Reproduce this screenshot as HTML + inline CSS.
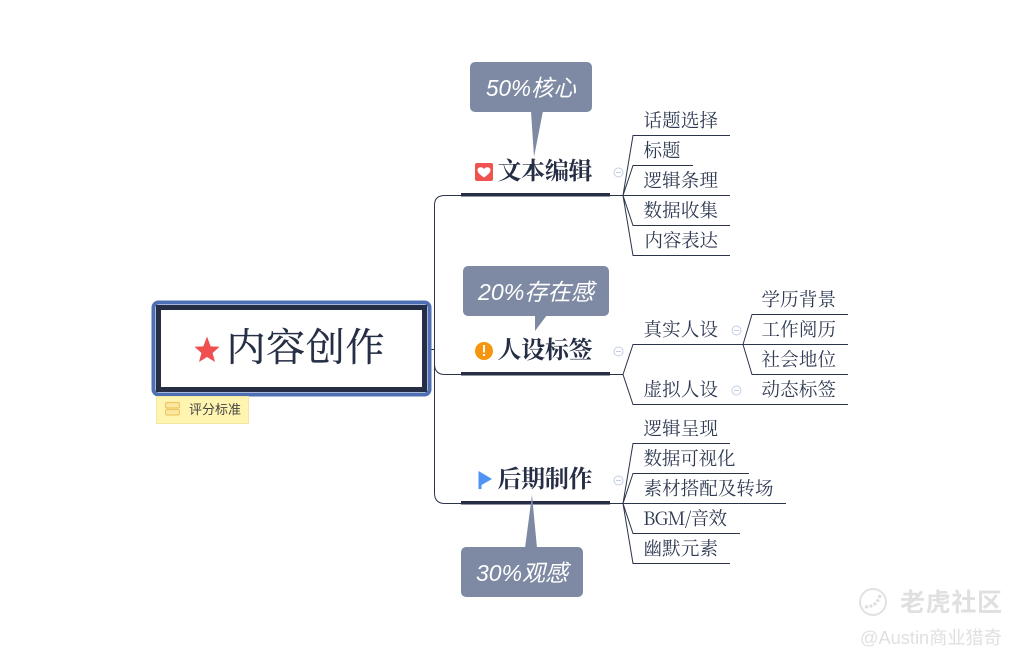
<!DOCTYPE html>
<html><head><meta charset="utf-8"><style>
html,body{margin:0;padding:0;background:#fff}
svg{display:block}
.l{font-family:"Noto Serif CJK SC","Liberation Serif",serif;font-size:18.5px;fill:#2f3a52}
.b{font-family:"Noto Serif CJK SC","Liberation Serif",serif;font-size:24px;font-weight:700;fill:#252e45}
.c{font-family:"Liberation Sans","Noto Sans CJK SC",sans-serif;font-size:23px;font-style:italic;fill:#fff}
.w{font-family:"Liberation Sans","Noto Sans CJK SC",sans-serif;fill:#dcdcdc}
</style></head><body>
<svg width="1021" height="661" viewBox="0 0 1021 661" xmlns="http://www.w3.org/2000/svg">
<rect width="1021" height="661" fill="#fff"/>
<!-- trunk -->
<g fill="none" stroke="#2b3449" stroke-width="1">
<path d="M426 349.500H434M461 195.500H445Q434.500 195.500 434.500 205V493Q434.500 503.500 445 503.500H461M434.500 364Q434.500 374.500 445 374.500H461"/>
<path d="M610 195.500H623L633 135.500H730M623 195.500L633 165.500H693M623 195.500H730M623 195.500L633 225.500H730M623 195.500L633 255.500H730"/>
<path d="M610 374.500H623L633 344.500H743L752 314.500H848M743 344.500H848M743 344.500L752 374.500H848M623 374.500L633 404.500H848"/>
<path d="M610 503.500H623L633 443.500H730M623 503.500L633 473.500H749M623 503.500H786M623 503.500L633 533.500H740M623 503.500L633 563.500H730"/>
</g>
<g fill="#252e45">
<rect x="461" y="193" width="149" height="3.500"/>
<rect x="461" y="372" width="149" height="3.500"/>
<rect x="461" y="501" width="149" height="3.500"/>
</g>
<!-- callouts -->
<g fill="#7e89a3">
<rect x="470" y="62" width="122" height="50" rx="5"/><path d="M531 111H543L534 157Z"/>
<rect x="463" y="266" width="146" height="50" rx="5"/><path d="M535 315H547L535 331Z"/>
<rect x="461" y="547" width="122" height="50" rx="5"/><path d="M525 548H537L532 495Z"/>
</g>
<text class="c" x="486" y="96" textLength="90" lengthAdjust="spacingAndGlyphs">50%核心</text>
<text class="c" x="478" y="300" textLength="116" lengthAdjust="spacingAndGlyphs">20%存在感</text>
<text class="c" x="476" y="581" textLength="92" lengthAdjust="spacingAndGlyphs">30%观感</text>
<!-- root -->
<rect x="153.500" y="302.500" width="276" height="92" rx="5" fill="#fff" stroke="#4f6fb5" stroke-width="4"/>
<rect x="158.500" y="307.500" width="266" height="82" fill="#fff" stroke="#252e45" stroke-width="5"/>
<path d="M207 336.500L210.700 346.400 219.500 346.800 212.600 353 215 362 207 357 199 362 201.400 353 194.500 346.800 203.300 346.400Z" fill="#ef4f4f"/>
<text x="226.500" y="361" textLength="158" style="font-family:'Noto Serif CJK SC',serif;font-size:39px;fill:#252e45;stroke:#252e45;stroke-width:.3">内容创作</text>
<!-- note -->
<rect x="156.500" y="396.500" width="92" height="27" fill="#fff5b0" stroke="#f3e6a5"/>
<g fill="#fbe7a0" stroke="#eec766" stroke-width="1.200"><rect x="165.500" y="402.500" width="14" height="5.500" rx="1.500"/><rect x="165.500" y="409.500" width="14" height="5.500" rx="1.500"/></g>
<text x="189" y="414" textLength="52" style="font-family:'Noto Sans CJK SC',sans-serif;font-size:13px;fill:#444">评分标准</text>
<!-- branches -->
<rect x="475" y="163" width="18" height="18" rx="2" fill="#ef5350"/>
<path d="M484 177.500C479 174 477.500 172 477.500 170C477.500 167 482 166 484 169C486 166 490.500 167 490.500 170C490.500 172 489 174 484 177.500Z" fill="#fff"/>
<text class="b" x="497.500" y="179" textLength="95">文本编辑</text>
<circle cx="484" cy="351" r="9" fill="#f7950f"/>
<rect x="483" y="345" width="2" height="7.500" fill="#fff"/><rect x="483" y="354" width="2" height="2" fill="#fff"/>
<text class="b" x="497.500" y="358" textLength="95">人设标签</text>
<path d="M478.500 471L492 479 481.500 485V489H478.500Z" fill="#4f93f5"/>
<text class="b" x="497.500" y="487" textLength="95">后期制作</text>
<!-- collapse icons -->
<g fill="none" stroke="#c5cde6" stroke-width="1">
<circle cx="618.500" cy="172.500" r="4.500"/><path d="M616 172.500H621"/>
<circle cx="618.500" cy="351.500" r="4.500"/><path d="M616 351.500H621"/>
<circle cx="736.500" cy="330.500" r="4.500"/><path d="M734 330.500H739"/>
<circle cx="736.500" cy="390.500" r="4.500"/><path d="M734 390.500H739"/>
<circle cx="618.500" cy="480.500" r="4.500"/><path d="M616 480.500H621"/>
</g>
<!-- leaves -->
<text class="l" x="643.500" y="127" textLength="74.500">话题选择</text>
<text class="l" x="643.500" y="157" textLength="37">标题</text>
<text class="l" x="643.500" y="187" textLength="74.500">逻辑条理</text>
<text class="l" x="643.500" y="217" textLength="74.500">数据收集</text>
<text class="l" x="644.500" y="247" textLength="73.500">内容表达</text>
<text class="l" x="643.500" y="336" textLength="74.500">真实人设</text>
<text class="l" x="643.500" y="396" textLength="74.500">虚拟人设</text>
<text class="l" x="761.500" y="306" textLength="74.500">学历背景</text>
<text class="l" x="761.500" y="336" textLength="74.500">工作阅历</text>
<text class="l" x="761.500" y="366" textLength="74.500">社会地位</text>
<text class="l" x="761.500" y="396" textLength="74.500">动态标签</text>
<text class="l" x="643.500" y="435" textLength="74.500">逻辑呈现</text>
<text class="l" x="643.500" y="465" textLength="92">数据可视化</text>
<text class="l" x="643.500" y="495" textLength="130">素材搭配及转场</text>
<text class="l" x="643" y="525" textLength="84">BGM/音效</text>
<text class="l" x="643.500" y="555" textLength="74.500">幽默元素</text>
<!-- watermark -->
<circle cx="873" cy="602" r="13" fill="none" stroke="#e2e2e2" stroke-width="2"/>
<path d="M865 607Q877 607 880 595" fill="none" stroke="#dedede" stroke-width="3" stroke-dasharray="3 1.500"/>
<text class="w" x="900" y="611" textLength="102" style="font-size:25px;font-weight:700;fill:#e0e0e0">老虎社区</text>
<text class="w" x="860" y="644" textLength="142" lengthAdjust="spacingAndGlyphs" style="font-size:18px;fill:#e0e0e0">@Austin商业猎奇</text>
</svg>
</body></html>
